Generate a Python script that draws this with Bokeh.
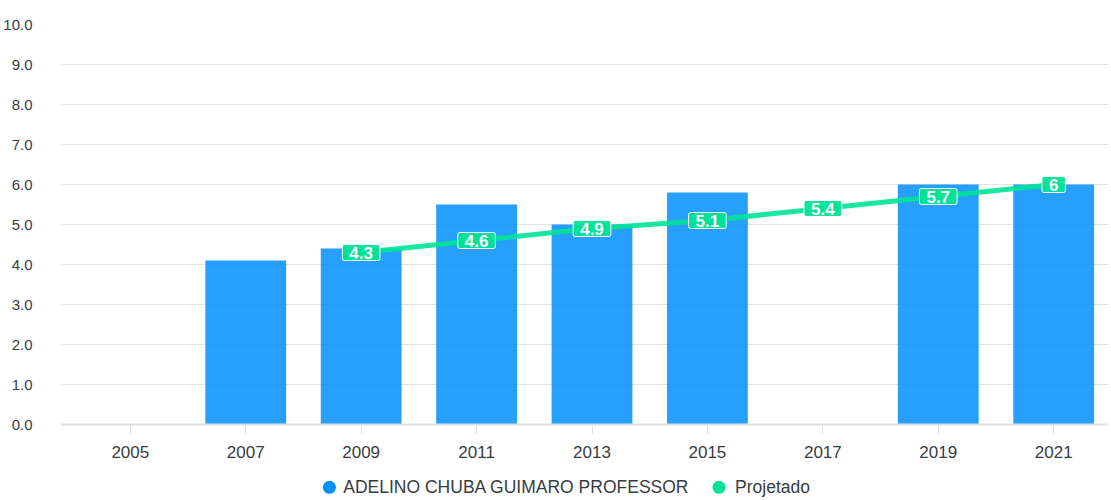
from bokeh.plotting import figure
from bokeh.models import (ColumnDataSource, FixedTicker, NumeralTickFormatter,
                          Range1d)
from bokeh.embed import file_html
from bokeh.resources import INLINE
from bokeh.core.properties import value

# ---- data ----
tick_years = [2005, 2007, 2009, 2011, 2013, 2015, 2017, 2019, 2021]
bar_years = [2007, 2009, 2011, 2013, 2015, 2019, 2021]
bar_values = [4.1, 4.4, 5.5, 5.0, 5.8, 6.0, 6.0]
proj_years = [2009, 2011, 2013, 2015, 2017, 2019, 2021]
proj_values = [4.3, 4.6, 4.9, 5.1, 5.4, 5.7, 6.0]
proj_labels = ["4.3", "4.6", "4.9", "5.1", "5.4", "5.7", "6"]
series_names = ["ADELINO CHUBA GUIMARO PROFESSOR", "Projetado"]
y_ticks = [0, 1, 2, 3, 4, 5, 6, 7, 8, 9, 10]

BLUE = "#008FFB"
GREEN = "#00E396"
FONT = "Liberation Sans"

# ---- layout of the hand-drawn legend (below the x axis, inside the frame) ----
legend_marker_x = [2008.45, 2015.20]
legend_text_x = [2008.69, 2015.48]
legend_y = -1.57
legend_colors = [BLUE, GREEN]

p = figure(width=1108, height=500,
           x_range=Range1d(2003.79, 2021.95), y_range=Range1d(-1.9, 10),
           output_backend="svg", toolbar_location=None,
           min_border_left=59, min_border_right=0, min_border_top=24,
           min_border_bottom=0)
p.outline_line_color = None
p.background_fill_color = "white"

p.vbar(x=bar_years, top=bar_values, width=1.4,
       fill_color=BLUE, fill_alpha=0.85, line_color=None)

src = ColumnDataSource(dict(x=proj_years, y=proj_values, t=proj_labels))
p.line("x", "y", source=src, line_color=GREEN, line_width=5, line_alpha=0.9)

p.text(x="x", y="y", text="t", source=src,
       text_align="center", text_baseline="middle",
       text_color="white", text_font=value(FONT),
       text_font_size="17px", text_font_style="bold",
       background_fill_color=GREEN, background_fill_alpha=0.95,
       border_line_color="white", border_line_width=1,
       padding=(7, 2), border_radius=2)

# x axis pinned at y = 0 (takes no panel space)
p.xaxis.fixed_location = 0
p.xaxis.ticker = FixedTicker(ticks=tick_years)
p.xaxis.axis_line_color = "#e0e0e0"
p.xaxis.axis_line_width = 2
p.xaxis.major_tick_line_color = "#e0e0e0"
p.xaxis.major_tick_out = 10
p.xaxis.major_tick_in = 0
p.xaxis.minor_tick_line_color = None
p.xaxis.major_label_text_font = FONT
p.xaxis.major_label_text_font_size = "17px"
p.xaxis.major_label_text_color = "#373d3f"
p.xaxis.major_label_standoff = 11

p.yaxis.ticker = FixedTicker(ticks=y_ticks)
p.yaxis.formatter = NumeralTickFormatter(format="0.0")
p.yaxis.axis_line_color = None
p.yaxis.major_tick_line_color = None
p.yaxis.minor_tick_line_color = None
p.yaxis.major_label_text_font = FONT
p.yaxis.major_label_text_font_size = "15px"
p.yaxis.major_label_text_color = "#373d3f"
p.yaxis.major_label_standoff = 22

p.xgrid.grid_line_color = None
p.ygrid.ticker = FixedTicker(ticks=y_ticks)
p.ygrid.grid_line_color = "#e3e3e3"
p.ygrid.grid_line_width = 1

# legend (circles + labels)
p.scatter(x=legend_marker_x, y=[legend_y] * 2, marker="circle", size=13,
          fill_color=legend_colors, line_color=None)
p.text(x=legend_text_x, y=[legend_y] * 2, text=series_names,
       text_align="left", text_baseline="middle",
       text_font=value(FONT), text_font_size="17.5px", text_color="#373d3f")

open("out.html", "w").write(file_html(p, INLINE))
